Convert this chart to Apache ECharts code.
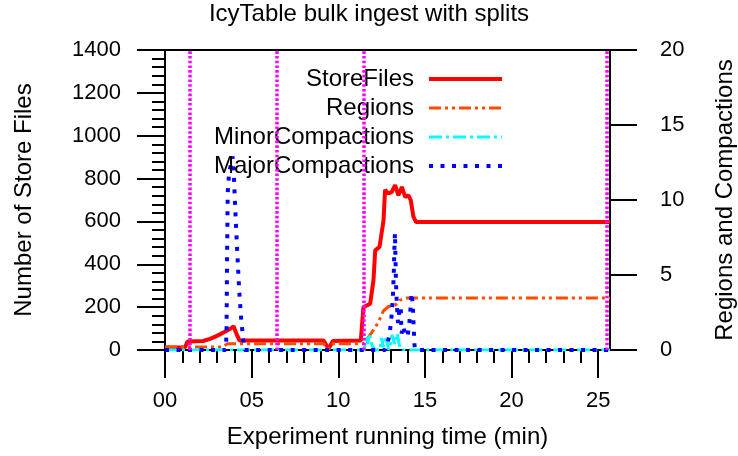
<!DOCTYPE html>
<html>
<head>
<meta charset="utf-8">
<script src="https://cdn.jsdelivr.net/npm/echarts@6/dist/echarts.min.js"></script>
<style>
  html, body { margin: 0; padding: 0; background: #fff; }
  #chart { width: 738px; height: 456px; }
</style>
</head>
<body>
<div id="chart"></div>
<script>
/*字体*/
var FONT = "'Liberation Sans', Arial, sans-serif";

/*数据: [分钟, 值]*/
var storeFiles = [[0, 12], [1.15, 12], [1.3, 40], [2.2, 42], [2.6, 52], [3.0, 66], [3.4, 83], [3.77, 99], [3.96, 111],
  [4.1, 80], [4.3, 44], [9.15, 44], [9.44, 6], [9.69, 42], [11.3, 44], [11.45, 200], [11.84, 216], [12.03, 325],
  [12.13, 465], [12.38, 481], [12.51, 551], [12.61, 605], [12.7, 747], [12.9, 730], [13.09, 738], [13.28, 769],
  [13.47, 722], [13.67, 761], [13.86, 714], [14.05, 722], [14.18, 699], [14.34, 621], [14.49, 597], [25.68, 597]];
var regions = [[0, 0.2], [3.3, 0.2], [3.6, 0.42], [9.15, 0.42], [9.44, 0.05], [9.69, 0.42], [11.45, 0.42], [11.8, 0.95],
  [12.1, 1.45], [12.35, 1.95], [12.6, 2.6], [12.9, 2.9], [13.3, 3.0], [13.5, 3.3], [13.9, 3.46], [25.68, 3.46]];
var minorCompactions = [[0, 0], [11.5, 0], [11.6, 0.9], [11.7, 0.4], [11.8, 1.1], [11.95, 0.3], [12.1, 0], [12.4, 0],
  [12.5, 0.8], [12.6, 0.2], [12.75, 0.9], [12.9, 0], [13.0, 0.3], [13.1, 1.0], [13.25, 0.4], [13.4, 1.1], [13.55, 0.2],
  [13.7, 0], [25.68, 0]];
var majorCompactions = [[0, 0], [3.5, 0], [3.55, 1], [3.58, 6], [3.62, 10.5], [3.7, 11.8], [3.9, 12.9], [3.98, 11.5],
  [4.05, 9.5], [4.15, 7], [4.28, 4], [4.4, 2], [4.55, 0.3], [4.6, 0], [12.7, 0], [12.85, 0.5], [12.95, 1.0], [13.05, 1.9],
  [13.1, 2.7], [13.15, 3.5], [13.2, 5.0], [13.23, 6.5], [13.27, 7.8], [13.3, 6.1], [13.33, 4.5], [13.38, 3.0],
  [13.45, 1.8], [13.52, 2.6], [13.6, 2.9], [13.65, 1.1], [13.75, 1.6], [13.85, 1.0], [14.0, 0.9], [14.1, 1.8],
  [14.17, 2.8], [14.23, 3.8], [14.3, 3.0], [14.35, 1.5], [14.4, 0.3], [14.45, 0], [25.68, 0]];
/*分裂时刻(竖线)*/
var splitTimes = [1.42, 6.42, 11.45, 25.49];
/*刻度*/
var xMajorTicks = [0, 5, 10, 15, 20, 25];
var xMinorTicks = [1, 2, 3, 4, 6, 7, 8, 9, 11, 12, 13, 14, 16, 17, 18, 19, 21, 22, 23, 24];

var black = '#000';
var option = {
  animation: false,
  backgroundColor: '#fff',
  textStyle: { fontFamily: FONT, color: black },
  title: {
    text: 'IcyTable bulk ingest with splits',
    left: 'center',
    top: 2,
    padding: 0,
    textStyle: { fontSize: 24, fontWeight: 'normal', color: black, fontFamily: FONT }
  },
  legend: {
    orient: 'vertical',
    right: 229,
    top: 62,
    align: 'right',
    itemWidth: 73,
    itemHeight: 14,
    itemGap: 5,
    selectedMode: false,
    itemStyle: { opacity: 0 },
    lineStyle: { width: 'inherit' },
    textStyle: { fontSize: 24, color: black, fontFamily: FONT, padding: [0, 10, 0, 0] },
    data: ['StoreFiles', 'Regions', 'MinorCompactions', 'MajorCompactions']
  },
  grid: {
    left: 165, right: 128, top: 50, bottom: 106,
    outerBoundsMode: 'none', containLabel: false,
    show: true, borderColor: black, borderWidth: 2
  },
  xAxis: [{
    type: 'value', min: 0, max: 25.68, position: 'bottom',
    name: 'Experiment running time (min)', nameLocation: 'middle', nameGap: 75,
    nameTextStyle: { fontSize: 24, color: black, fontFamily: FONT },
    axisLine: { onZero: false, lineStyle: { color: black, width: 2 } },
    axisTick: { customValues: xMajorTicks, length: 28, lineStyle: { color: black, width: 2 } },
    axisLabel: {
      customValues: xMajorTicks, margin: 40, fontSize: 22, color: black, fontFamily: FONT,
      formatter: function (v) { return v < 10 ? '0' + v : '' + v; }
    },
    splitLine: { show: false }
  }, {
    type: 'value', min: 0, max: 25.68, position: 'bottom',
    axisLine: { show: false, onZero: false },
    axisTick: { customValues: xMinorTicks, length: 13, lineStyle: { color: black, width: 2 } },
    axisLabel: { show: false },
    splitLine: { show: false }
  }],
  yAxis: [{
    type: 'value', min: 0, max: 1400, interval: 200, position: 'left',
    name: 'Number of Store Files', nameLocation: 'middle', nameGap: 129, nameRotate: 90,
    nameTextStyle: { fontSize: 24, color: black, fontFamily: FONT },
    axisLine: { show: true, onZero: false, lineStyle: { color: black, width: 2 } },
    axisTick: { show: true, length: 28, lineStyle: { color: black, width: 2 } },
    minorTick: { show: true, splitNumber: 5, length: 13, lineStyle: { color: black, width: 2 } },
    axisLabel: {
      margin: 44, fontSize: 22, color: black, fontFamily: FONT,
      formatter: function (v) { return '' + v; }
    },
    splitLine: { show: false }
  }, {
    type: 'value', min: 0, max: 20, interval: 5, position: 'right',
    name: 'Regions and Compactions', nameLocation: 'middle', nameGap: 103, nameRotate: 90,
    nameTextStyle: { fontSize: 24, color: black, fontFamily: FONT },
    axisLine: { show: true, onZero: false, lineStyle: { color: black, width: 2 } },
    axisTick: { show: true, length: 27, lineStyle: { color: black, width: 2 } },
    axisLabel: { margin: 50, fontSize: 22, color: black, fontFamily: FONT },
    splitLine: { show: false }
  }],
  series: [{
    name: 'StoreFiles', type: 'line', yAxisIndex: 0, symbol: 'none',
    lineStyle: { color: '#ff0000', width: 4 }, itemStyle: { color: '#ff0000' },
    data: storeFiles,
    markLine: {
      silent: true, symbol: 'none', label: { show: false },
      lineStyle: { color: '#ff00ff', width: 3.5, type: [2.6, 2.1] },
      data: splitTimes.map(function (t) { return { xAxis: t }; })
    }
  }, {
    name: 'Regions', type: 'line', yAxisIndex: 1, symbol: 'none',
    lineStyle: { color: '#ff4a00', width: 3, type: [12, 4, 3, 4, 3, 4] }, itemStyle: { color: '#ff4a00' },
    data: regions
  }, {
    name: 'MinorCompactions', type: 'line', yAxisIndex: 1, symbol: 'none',
    lineStyle: { color: '#00ffff', width: 3, type: [13, 4, 3, 4] }, itemStyle: { color: '#00ffff' },
    data: minorCompactions
  }, {
    name: 'MajorCompactions', type: 'line', yAxisIndex: 1, symbol: 'none',
    lineStyle: { color: '#0000ff', width: 4, type: [4, 7.5] }, itemStyle: { color: '#0000ff' },
    data: majorCompactions
  }]
};

var chart = echarts.init(document.getElementById('chart'));
chart.setOption(option);
</script>
</body>
</html>
